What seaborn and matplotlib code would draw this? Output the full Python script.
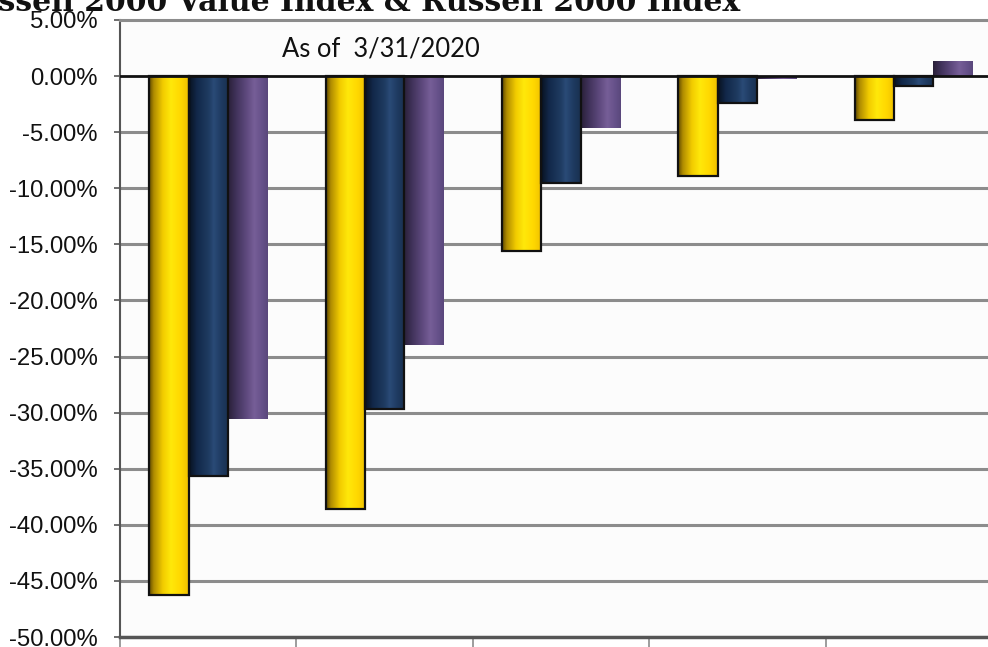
import numpy as np
import pandas as pd
import matplotlib
matplotlib.use("Agg")
import matplotlib.pyplot as plt
from matplotlib.colors import LinearSegmentedColormap
from matplotlib.ticker import FuncFormatter, FixedLocator
import seaborn as sns

# ---- data ----
categories = ["QTD", "1 Year", "3 Year", "5 Year", "Since Inception"]
series = ["Fund", "Russell 2000 Value Index", "Russell 2000 Index"]
fund = [-46.3, -38.6, -15.6, -8.9, -3.9]
r2000_value = [-35.66, -29.64, -9.51, -2.42, -0.9]
r2000 = [-30.61, -23.99, -4.64, -0.25, 1.31]
y_ticks = [5, 0, -5, -10, -15, -20, -25, -30, -35, -40, -45, -50]
title = "Russell 2000 Value Index & Russell 2000 Index"
note = "As of  3/31/2020"

df = pd.DataFrame({
    "category": categories * 3,
    "series": [series[0]] * 5 + [series[1]] * 5 + [series[2]] * 5,
    "value": fund + r2000_value + r2000,
})

sns.set_theme(style="white")
plt.rcParams["font.family"] = ["Liberation Sans", "DejaVu Sans"]

fig = plt.figure(figsize=(9.88, 6.47), dpi=100)
fig.patch.set_facecolor("white")
ax = fig.add_axes([120 / 988, 1 - 637 / 647, 882 / 988, 617 / 647])
ax.set_facecolor("#fcfcfc")

base_cols = ["#ffd800", "#1f3a60", "#6a5488"]
sns.barplot(data=df, x="category", y="value", hue="series", order=categories,
            hue_order=series, palette=base_cols, width=0.67, gap=0,
            legend=False, ax=ax, zorder=3)

ax.set_xlim(-0.5, 4.5)
ax.set_ylim(-50, 5)

# gradient fills
grads = [
    LinearSegmentedColormap.from_list("y", [(0, "#5e4800"), (0.12, "#b08c00"), (0.35, "#f2cc00"),
                                             (0.55, "#ffe80a"), (0.8, "#ffd700"), (1, "#eebf00")]),
    LinearSegmentedColormap.from_list("n", [(0, "#08121f"), (0.2, "#12284a"), (0.5, "#1f3c62"),
                                             (0.62, "#2a4b77"), (0.8, "#1f3b62"), (1, "#18304f")]),
    LinearSegmentedColormap.from_list("p", [(0, "#2a2038"), (0.2, "#40325a"), (0.5, "#634d83"),
                                             (0.66, "#765e97"), (0.85, "#66518a"), (1, "#5a477b")]),
]
grad = np.linspace(0, 1, 256).reshape(1, -1)
patches = [p for p in ax.patches if p.get_width() > 0]
for i, p in enumerate(patches):
    s = i // len(categories)
    x0, y0 = p.get_x(), p.get_y()
    w, h = p.get_width(), p.get_height()
    ax.imshow(grad, cmap=grads[s], aspect="auto",
              extent=(x0, x0 + w, min(y0, y0 + h), max(y0, y0 + h)), zorder=3,
              interpolation="bilinear")
    p.set_facecolor("none")
    p.set_zorder(4)
    if s < 2:
        p.set_edgecolor("#111111")
        p.set_linewidth(1.6)
    else:
        p.set_edgecolor("none")
ax.set_xlim(-0.5, 4.5)
ax.set_ylim(-50, 5)

# grid and axes
ax.yaxis.set_major_locator(FixedLocator(y_ticks))
ax.yaxis.set_major_formatter(FuncFormatter(lambda v, _: f"{v:.2f}%"))
for yv in y_ticks:
    if yv not in (0, 5, -50):
        ax.axhline(yv, color="#8c8c8c", lw=2.2, zorder=1)
ax.axhline(0, color="#111111", lw=2.0, zorder=5)

ax.set_xticks([])
ax.set_xticks([-0.5, 0.5, 1.5, 2.5, 3.5], minor=True)
ax.tick_params(axis="x", which="minor", length=9, width=1.2, color="#8c8c8c",
               direction="out", bottom=True)
ax.tick_params(axis="y", which="major", length=4, width=1.2, color="#555555",
               left=True, labelsize=17.2, labelcolor="#111111", pad=12)

for side in ["top", "left", "bottom", "right"]:
    ax.spines[side].set_visible(True)
ax.spines["top"].set_color("#8c8c8c")
ax.spines["top"].set_linewidth(2.2)
ax.spines["left"].set_color("#555555")
ax.spines["left"].set_linewidth(1.5)
ax.spines["bottom"].set_color("#555555")
ax.spines["bottom"].set_linewidth(2.5)
ax.spines["right"].set_visible(False)
ax.set_xlabel("")
ax.set_ylabel("")

fig.text(381 / 988, 1 - 49 / 647, note, ha="center", va="center",
         fontsize=18.4, family=["Lato", "DejaVu Sans"], color="#111111")
fig.text(740 / 988, 1 - 11 / 647, title, ha="right", va="baseline",
         fontsize=21.5, family=["DejaVu Serif"], weight="bold", color="#111111")

fig.savefig("out.png", dpi=100)
